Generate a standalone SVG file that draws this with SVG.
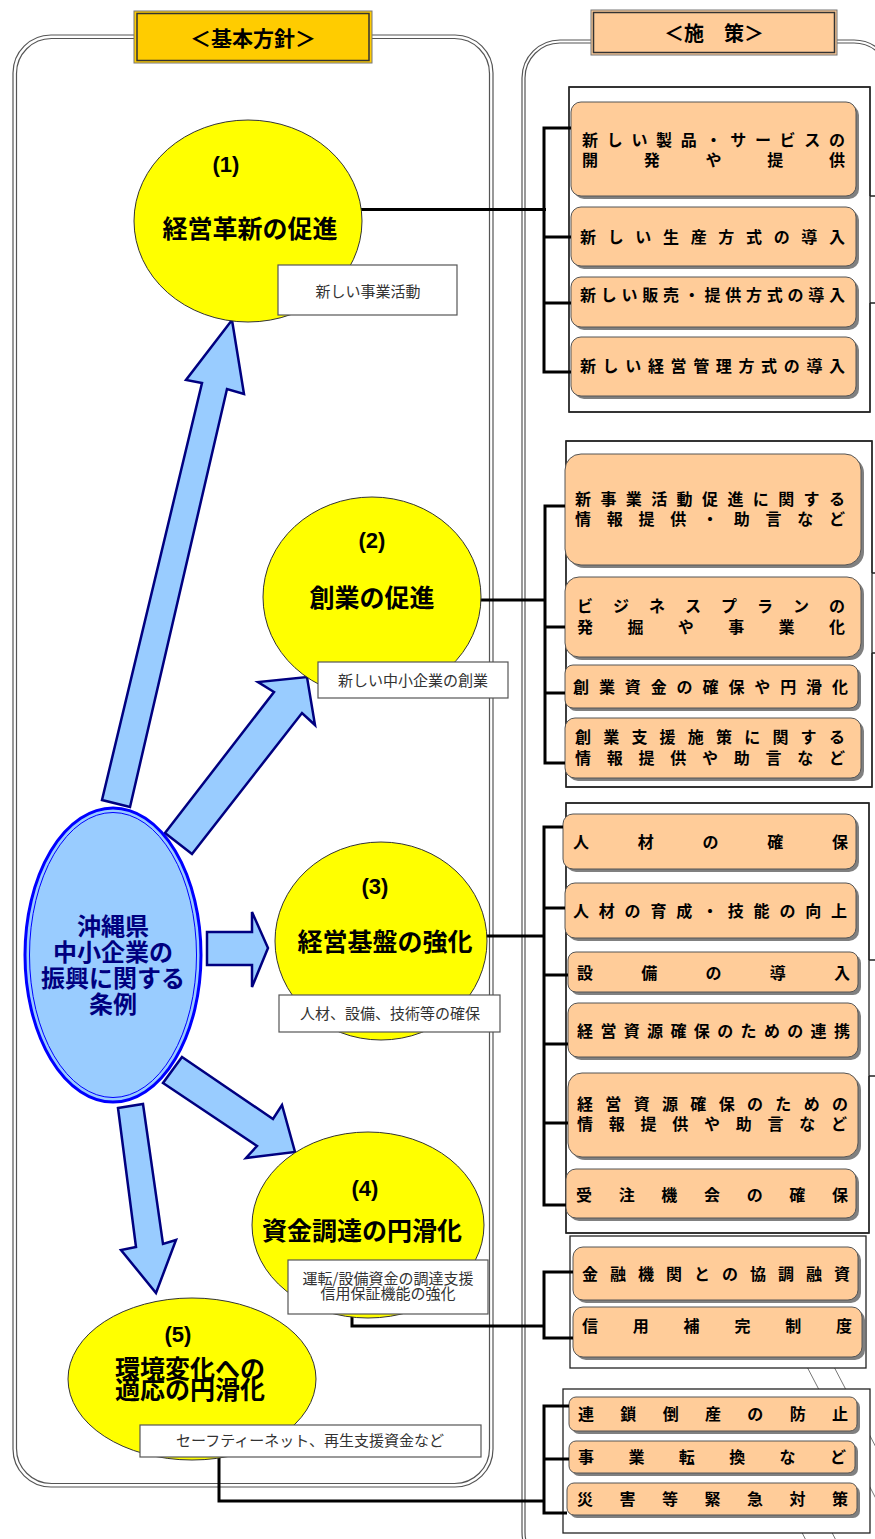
<svg xmlns="http://www.w3.org/2000/svg" width="875" height="1539" viewBox="0 0 875 1539">
<defs>
<style>
.panel{fill:none;stroke:#555;stroke-width:1.2}
.hdr-o{stroke:#777;stroke-width:1}
.hdr-i{fill:none;stroke:#333;stroke-width:1.5}
.hdrt{font-family:"Noto Sans CJK JP","Liberation Sans",sans-serif;font-weight:bold;fill:#000;text-anchor:middle}
.frame{fill:#fff;stroke:#222;stroke-width:1.3}
.fline{fill:none;stroke:#222;stroke-width:1.3}
.diag{stroke:#777;stroke-width:1}
.box{fill:#FFCC99;stroke:#555;stroke-width:1}
.shadow{fill:#808080}
.bt{font-family:"Noto Sans CJK JP","Liberation Sans",sans-serif;font-weight:bold;font-size:16px;fill:#000}
.conn{fill:none;stroke:#000;stroke-width:3}
.arrow{fill:#99CCFF;stroke:#000080;stroke-width:2.5;stroke-linejoin:miter}
.yel{fill:#FFFF00;stroke:#333;stroke-width:1}
.num{font-family:"Liberation Sans",Arial,sans-serif;font-weight:bold;font-size:22px;fill:#000;text-anchor:middle}
.ttl{font-family:"Noto Sans CJK JP","Liberation Sans",sans-serif;font-weight:bold;font-size:25px;fill:#000;text-anchor:middle}
.note{fill:#fff;stroke:#555;stroke-width:1.2}
.nt{font-family:"Noto Sans CJK JP","Liberation Sans",sans-serif;font-size:15px;fill:#333;text-anchor:middle}
.ct{font-family:"Noto Sans CJK JP","Liberation Sans",sans-serif;font-weight:bold;font-size:24px;fill:#000080;text-anchor:middle}
</style>
</defs>

<!-- panels -->
<g id="left-panel">
<rect class="panel" x="13" y="35" width="480" height="1452" rx="38"/>
<rect class="panel" x="16.5" y="38.5" width="473" height="1445" rx="35"/>
</g>
<g id="right-panel">
<rect class="panel" x="522" y="40" width="370" height="1530" rx="38"/>
<rect class="panel" x="525" y="43" width="364" height="1524" rx="35"/>
</g>

<g id="header-left">
<rect class="hdr-o" x="134" y="11" width="238" height="52" fill="#FFCC00"/>
<rect class="hdr-i" x="137" y="13.5" width="232" height="47"/>
<text class="hdrt" x="253" y="46" font-size="21">＜基本方針＞</text>
</g>
<g id="header-right">
<rect class="hdr-o" x="591" y="10" width="246" height="45" fill="#FFCC99"/>
<rect class="hdr-i" x="593.5" y="12.5" width="241" height="40"/>
<text class="hdrt" x="714" y="41" font-size="20">＜施　策＞</text>
</g>

<!-- diagonal background lines -->
<g id="diagonals">
<line class="diag" x1="793" y1="1340" x2="896" y2="1537"/>
<line class="diag" x1="820" y1="1340" x2="880" y2="1455"/>
<line class="diag" x1="759" y1="1450" x2="810" y2="1548"/>
<line class="diag" x1="789" y1="1450" x2="840" y2="1548"/>
</g>

<!-- group frames -->
<g id="frame-1">
<rect class="frame" x="569" y="87" width="301" height="325" stroke="none"/>
<path class="fline" d="M870,196 H876 M870,303 H876 M870,303 V412 H569 V87 H870 V196"/>
</g>
<g id="frame-2">
<rect class="frame" x="566" y="441" width="306" height="346" stroke="none"/>
<path class="fline" d="M872,573 H876 M872,653 H876 M872,653 V787 H566 V441 H872 V573"/>
</g>
<g id="frame-3">
<rect class="frame" x="566" y="803" width="303" height="430" stroke="none"/>
<path class="fline" d="M869,960 H876 M869,1076 H876 M869,1076 V1233 H566 V803 H869 V960"/>
</g>
<g id="frame-4">
<rect class="frame" x="570" y="1236" width="296" height="132"/>
</g>
<g id="frame-5">
<rect class="frame" x="563" y="1389" width="307" height="144"/>
</g>

<!-- policy boxes -->
<g id="box-1a">
<rect class="shadow" x="574" y="105" width="285" height="94" rx="10"/>
<rect class="box" x="571" y="102" width="285" height="94" rx="10"/>
<text class="bt" x="582 606.7 631.4 656.1 680.8 705.5 730.2 754.9 779.6 804.3 829" y="146">新しい製品・サービスの</text>
<text class="bt" x="582 643.75 705.5 767.25 829" y="166">開発や提供</text>
</g>
<g id="box-1b">
<rect class="shadow" x="574" y="210" width="285" height="59" rx="10"/>
<rect class="box" x="571" y="207" width="285" height="59" rx="10"/>
<text class="bt" x="580 607.7 635.3 663 690.7 718.3 746 773.7 801.3 829" y="243">新しい生産方式の導入</text>
</g>
<g id="box-1c">
<rect class="shadow" x="574" y="280" width="285" height="50" rx="10"/>
<rect class="box" x="571" y="277" width="285" height="50" rx="10"/>
<text class="bt" x="580 600.75 621.5 642.25 663 683.75 704.5 725.25 746 766.75 787.5 808.25 829" y="301">新しい販売・提供方式の導入</text>
</g>
<g id="box-1d">
<rect class="shadow" x="574" y="340" width="285" height="59" rx="10"/>
<rect class="box" x="571" y="337" width="285" height="59" rx="10"/>
<text class="bt" x="580 602.6 625.3 647.9 670.5 693.2 715.8 738.5 761.1 783.8 806.4 829" y="372">新しい経営管理方式の導入</text>
</g>

<g id="box-2a">
<rect class="shadow" x="568" y="457" width="296" height="111" rx="16"/>
<rect class="box" x="565" y="454" width="296" height="111" rx="16"/>
<text class="bt" x="575 600.4 625.8 651.2 676.6 702 727.4 752.8 778.2 803.6 829" y="505">新事業活動促進に関する</text>
<text class="bt" x="575 606.75 638.5 670.25 702 733.75 765.5 797.25 829" y="525">情報提供・助言など</text>
</g>
<g id="box-2b">
<rect class="shadow" x="568" y="580" width="296" height="80" rx="14"/>
<rect class="box" x="565" y="577" width="296" height="80" rx="14"/>
<text class="bt" x="577 613 649 685 721 757 793 829" y="612">ビジネスプランの</text>
<text class="bt" x="577 627.4 677.8 728.2 778.6 829" y="633">発掘や事業化</text>
</g>
<g id="box-2c">
<rect class="shadow" x="568" y="668" width="293" height="43" rx="8"/>
<rect class="box" x="565" y="665" width="293" height="43" rx="8"/>
<text class="bt" x="573 598.9 624.8 650.7 676.6 702.5 728.4 754.3 780.2 806.1 832" y="693">創業資金の確保や円滑化</text>
</g>
<g id="box-2d">
<rect class="shadow" x="568" y="721" width="296" height="60" rx="10"/>
<rect class="box" x="565" y="718" width="296" height="60" rx="10"/>
<text class="bt" x="575 603.2 631.4 659.6 687.8 716 744.2 772.4 800.6 829" y="743">創業支援施策に関する</text>
<text class="bt" x="575 606.75 638.5 670.25 702 733.75 765.5 797.25 829" y="764">情報提供や助言など</text>
</g>

<g id="box-3a">
<rect class="shadow" x="566" y="817" width="293" height="55" rx="10"/>
<rect class="box" x="563" y="814" width="293" height="55" rx="10"/>
<text class="bt" x="573 637.75 702.5 767.25 832" y="848">人材の確保</text>
</g>
<g id="box-3b">
<rect class="shadow" x="568" y="886" width="291" height="55" rx="10"/>
<rect class="box" x="565" y="883" width="291" height="55" rx="10"/>
<text class="bt" x="573 598.8 624.6 650.4 676.2 702 727.8 753.6 779.4 805.2 831" y="917">人材の育成・技能の向上</text>
</g>
<g id="box-3c">
<rect class="shadow" x="571" y="955" width="290" height="40" rx="8"/>
<rect class="box" x="568" y="952" width="290" height="40" rx="8"/>
<text class="bt" x="577 641.25 705.5 769.75 834" y="979">設備の導入</text>
</g>
<g id="box-3d">
<rect class="shadow" x="571" y="1006" width="290" height="54" rx="10"/>
<rect class="box" x="568" y="1003" width="290" height="54" rx="10"/>
<text class="bt" x="577 600.4 623.7 647.1 670.5 693.8 717.2 740.5 763.9 787.3 810.6 834" y="1037">経営資源確保のための連携</text>
</g>
<g id="box-3e">
<rect class="shadow" x="571" y="1076" width="290" height="84" rx="14"/>
<rect class="box" x="568" y="1073" width="290" height="84" rx="14"/>
<text class="bt" x="577 605.3 633.7 662 690.3 718.7 747 775.3 803.7 832" y="1110">経営資源確保のための</text>
<text class="bt" x="577 608.75 640.5 672.25 704 735.75 767.5 799.25 831" y="1130">情報提供や助言など</text>
</g>
<g id="box-3f">
<rect class="shadow" x="569" y="1172" width="290" height="49" rx="10"/>
<rect class="box" x="566" y="1169" width="290" height="49" rx="10"/>
<text class="bt" x="576 618.7 661.3 704 746.7 789.3 832" y="1201">受注機会の確保</text>
</g>

<g id="box-4a">
<rect class="shadow" x="576" y="1250" width="285" height="53" rx="10"/>
<rect class="box" x="573" y="1247" width="285" height="53" rx="10"/>
<text class="bt" x="582 610 638 666 694 722 750 778 806 834" y="1280">金融機関との協調融資</text>
</g>
<g id="box-4b">
<rect class="shadow" x="576" y="1310" width="289" height="50" rx="10"/>
<rect class="box" x="573" y="1307" width="289" height="50" rx="10"/>
<text class="bt" x="582 632.8 683.6 734.4 785.2 836" y="1332">信用補完制度</text>
</g>

<g id="box-5a">
<rect class="shadow" x="572" y="1400" width="288" height="34" rx="7"/>
<rect class="box" x="569" y="1397" width="288" height="34" rx="7"/>
<text class="bt" x="578 620.3 662.7 705 747.3 789.7 832" y="1420">連鎖倒産の防止</text>
</g>
<g id="box-5b">
<rect class="shadow" x="572" y="1444" width="286" height="32" rx="7"/>
<rect class="box" x="569" y="1441" width="286" height="32" rx="7"/>
<text class="bt" x="578 628.4 678.8 729.2 779.6 830" y="1463">事業転換など</text>
</g>
<g id="box-5c">
<rect class="shadow" x="570" y="1486" width="290" height="32" rx="7"/>
<rect class="box" x="567" y="1483" width="290" height="32" rx="7"/>
<text class="bt" x="577 619.5 662 704.5 747 789.5 832" y="1505">災害等緊急対策</text>
</g>

<!-- connectors -->
<g id="connectors">
<path class="conn" d="M359,209.5 H546"/>
<path class="conn" d="M571,128 H544 V372 H571 M544,237 H571 M544,303 H571"/>
<path class="conn" d="M480,600 H545"/>
<path class="conn" d="M565,506 H545 V763 H565 M545,627 H565 M545,693 H565"/>
<path class="conn" d="M486,936 H544"/>
<path class="conn" d="M563,827 H544 V1205 H566 M544,908 H565 M544,975 H568 M544,1044 H568 M544,1123 H568"/>
<path class="conn" d="M352,1314 V1326 H544"/>
<path class="conn" d="M573,1272 H544 V1338 H573"/>
<path class="conn" d="M219,1457 V1501 H544"/>
<path class="conn" d="M569,1406 H544 V1513 H567 M544,1459 H569"/>
</g>

<!-- arrows -->
<g id="arrows">
<polygon class="arrow" points="102,800 202,383 186,380 232,320 244,394 227,389 130,807"/>
<polygon class="arrow" points="165,833 274,692 258,682 307,677 315,725 302,713 192,854"/>
<polygon class="arrow" points="207,932 252,932 252,912 268,948 252,987 252,965 207,965"/>
<polygon class="arrow" points="182,1057 273,1119 282,1105 295,1152 246,1158 257,1146 163,1083"/>
<polygon class="arrow" points="118,1108 143,1104 163,1244 176,1240 156,1293 121,1250 136,1247"/>
</g>

<!-- basic policy nodes -->
<g id="node-1">
<ellipse class="yel" cx="248" cy="221" rx="114" ry="101"/>
<text class="num" x="226" y="172">(1)</text>
<text class="ttl" x="250" y="238">経営革新の促進</text>
</g>
<g id="node-2">
<ellipse class="yel" cx="372" cy="597" rx="109" ry="100"/>
<text class="num" x="372" y="548">(2)</text>
<text class="ttl" x="372" y="607">創業の促進</text>
</g>
<g id="node-3">
<ellipse class="yel" cx="381" cy="941" rx="106" ry="99"/>
<text class="num" x="375" y="894">(3)</text>
<text class="ttl" x="385" y="951">経営基盤の強化</text>
</g>
<g id="node-4">
<ellipse class="yel" cx="368" cy="1225" rx="116" ry="93"/>
<text class="num" x="365" y="1196">(4)</text>
<text class="ttl" x="362" y="1240">資金調達の円滑化</text>
</g>
<g id="node-5">
<ellipse class="yel" cx="192" cy="1379" rx="124" ry="81"/>
<text class="num" x="178" y="1342">(5)</text>
<text class="ttl" x="190" y="1378" font-size="26">環境変化への</text>
<text class="ttl" x="190" y="1399" font-size="26">適応の円滑化</text>
</g>

<g id="node-center">
<ellipse cx="113" cy="955" rx="88" ry="147" fill="#99CCFF" stroke="#0000FF" stroke-width="3"/>
<ellipse cx="113" cy="955" rx="83.5" ry="142.5" fill="none" stroke="#0000FF" stroke-width="1"/>
<text class="ct" x="113" y="935">沖縄県</text>
<text class="ct" x="113" y="961">中小企業の</text>
<text class="ct" x="113" y="987">振興に関する</text>
<text class="ct" x="113" y="1013">条例</text>
</g>

<!-- notes -->
<g id="note-1">
<rect class="note" x="278" y="265" width="179" height="50"/>
<text class="nt" x="368" y="297">新しい事業活動</text>
</g>
<g id="note-2">
<rect class="note" x="318" y="662" width="190" height="36"/>
<text class="nt" x="413" y="686">新しい中小企業の創業</text>
</g>
<g id="note-3">
<rect class="note" x="279" y="995" width="221" height="37"/>
<text class="nt" x="390" y="1019">人材、設備、技術等の確保</text>
</g>
<g id="note-4">
<rect class="note" x="288" y="1260" width="200" height="54"/>
<text class="nt" x="388" y="1284">運転/設備資金の調達支援</text>
<text class="nt" x="388" y="1299">信用保証機能の強化</text>
</g>
<g id="note-5">
<rect class="note" x="140" y="1425" width="341" height="32"/>
<text class="nt" x="310" y="1446">セーフティーネット、再生支援資金など</text>
</g>
</svg>
